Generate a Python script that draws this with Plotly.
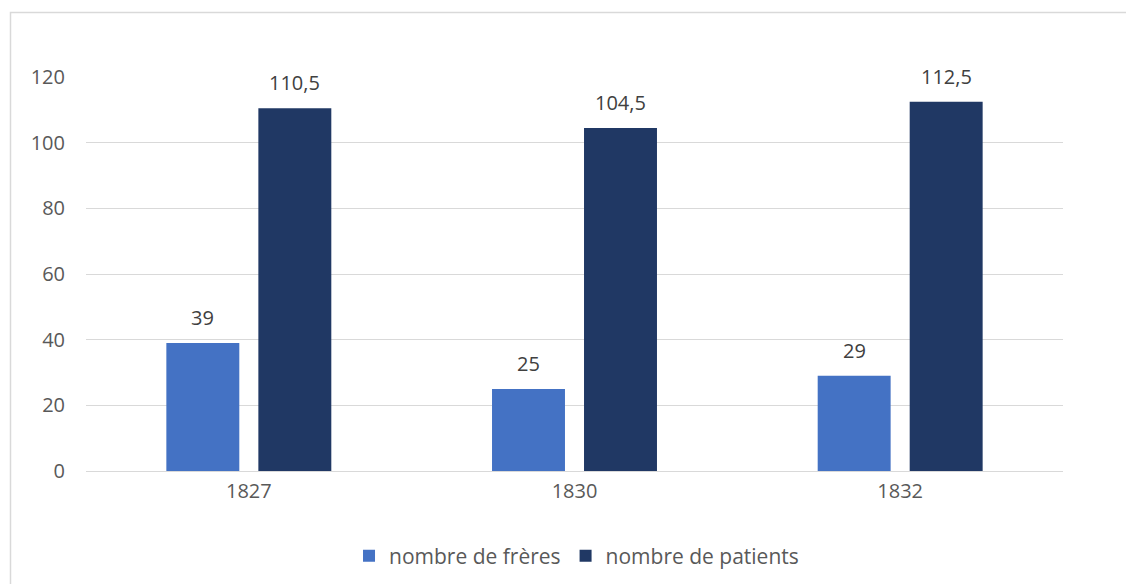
import plotly.graph_objects as go

categories = ["1827", "1830", "1832"]
freres = [39, 25, 29]
patients = [110.5, 104.5, 112.5]
series_names = ["nombre de frères", "nombre de patients"]
colors = ["#4472C4", "#203864"]


def fmt(v):
    s = ("%g" % v)
    return s.replace(".", ",")


FONT = "Open Sans"
fig = go.Figure()
for name, vals, col in zip(series_names, [freres, patients], colors):
    fig.add_trace(go.Bar(
        x=categories, y=vals, name=name,
        marker=dict(color=col, line=dict(width=0)),
    ))

L, R, T, B = 86, 63, 77, 113
W, H = 1126, 584
pw, ph = W - L - R, H - T - B
bargap, bargroupgap = 0.435, 0.207
slot = pw / len(categories) * (1 - bargap) / 2

annotations = []
for i, vals in enumerate([freres, patients]):
    for j, v in enumerate(vals):
        annotations.append(dict(
            x=j, y=v, xref="x", yref="y", text=fmt(v), showarrow=False,
            xshift=(i - 0.5) * slot, yshift=10, yanchor="bottom",
            font=dict(size=20, color="#404040", family=FONT)))

fig.update_layout(
    width=W, height=H,
    margin=dict(l=L, r=R, t=T, b=B, autoexpand=False),
    paper_bgcolor="white", plot_bgcolor="white",
    barmode="group", bargap=bargap, bargroupgap=bargroupgap,
    font=dict(family=FONT, color="#595959", size=20),
    showlegend=True,
    legend=dict(orientation="h", xref="container", yref="container",
                x=0.512, xanchor="center", y=1 - 556 / H, yanchor="middle",
                font=dict(size=21, color="#595959"), itemwidth=30),
    annotations=annotations,
    shapes=[dict(type="rect", xref="paper", yref="paper",
                 x0=(10.5 - L) / pw, x1=1.2, y0=-0.5, y1=(H - B - 12.5) / ph,
                 line=dict(color="#D9D9D9", width=1.5), fillcolor="rgba(0,0,0,0)", layer="below")],
)
fig.update_yaxes(range=[0, 120], dtick=20, showgrid=True, gridcolor="#D9D9D9", gridwidth=1,
                 zeroline=False, showline=False, ticks="", ticklabelstandoff=20,
                 tickfont=dict(size=20, color="#595959"))
fig.update_xaxes(type="category", range=[-0.5, len(categories) - 0.5], showgrid=False,
                 showline=True, linecolor="#D9D9D9", linewidth=1,
                 ticks="", ticklabelstandoff=2, tickfont=dict(size=20, color="#595959"))

fig.write_html("out.html", config={"displayModeBar": False},
               post_script="document.body.style.margin='0';document.body.style.overflow='hidden';")
